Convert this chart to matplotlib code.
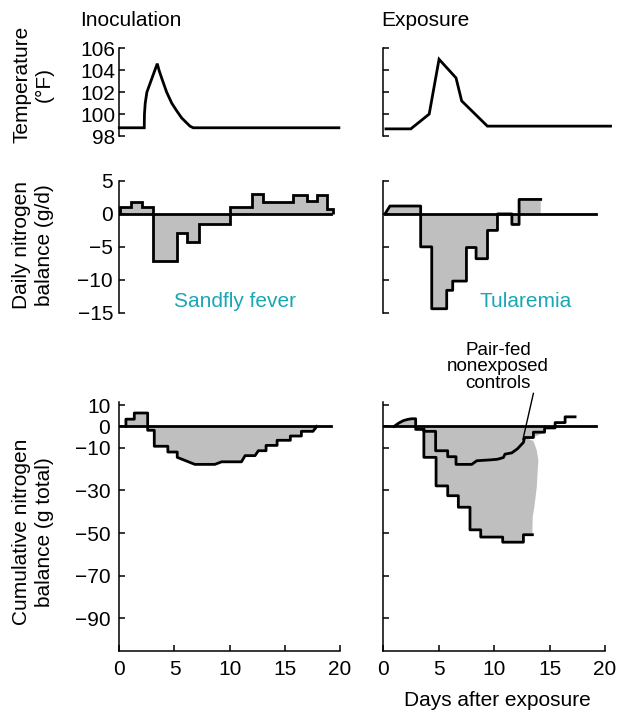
import matplotlib
matplotlib.use("Agg")
import matplotlib.pyplot as plt

plt.rcParams['font.family'] = ['Liberation Sans', 'DejaVu Sans']
FS = 15
FS_ANN = 13.5

# ---------------- data ----------------
# Temperature (deg F) vs day
TEMP_L_X = [0, 2.26, 2.28, 2.35, 2.5, 3.44, 3.6, 3.8, 4.29, 4.75, 5.2, 5.65, 6.1, 6.4, 6.7, 19.9]
TEMP_L_Y = [98.75, 98.75, 100.0, 101.0, 102.0, 104.6, 104.0, 103.4, 102.0, 101.0, 100.3, 99.65, 99.2, 98.9, 98.75, 98.75]
TEMP_R_X = [0.24, 2.48, 4.14, 5.03, 6.56, 7.07, 9.39, 20.5]
TEMP_R_Y = [98.65, 98.65, 100.0, 105.0, 103.3, 101.2, 98.9, 98.9]

# Daily nitrogen balance (g/d)
DAILY_L_EDGES = [0.06, 1.06, 2.1, 3.08, 5.25, 6.1, 7.2, 10.0, 12.0, 13.0, 15.7, 17.0, 17.9, 18.8, 19.4]
DAILY_L_VALS = [1.1, 1.8, 1.1, -7.2, -2.9, -4.3, -1.6, 1.0, 3.0, 1.8, 2.8, 1.9, 2.9, 0.8]
DAILY_R_START = 0.15
DAILY_R_EDGES = [0.6, 3.37, 4.37, 5.72, 6.26, 7.5, 8.37, 9.4, 10.3, 11.6, 12.25, 14.2]
DAILY_R_VALS = [1.2, -5.0, -14.4, -11.6, -10.2, -5.1, -6.8, -2.5, 0.0, -1.6, 2.2]

# Cumulative nitrogen balance (g total)
CUM_L_X = [0.6, 0.6, 1.36, 1.36, 2.57, 2.57, 3.17, 3.17, 4.4, 4.4, 5.25, 5.25, 6.85, 8.66, 9.27,
           11.07, 11.4, 12.3, 12.6, 13.3, 13.3, 14.3, 14.3, 15.5, 15.5, 16.5, 16.5, 17.55, 17.9]
CUM_L_Y = [0, 3.4, 3.4, 6.3, 6.3, -1.8, -1.8, -9.3, -9.3, -12.0, -12.0, -14.5, -17.8, -17.8, -16.6,
           -16.6, -13.7, -13.7, -11.4, -11.4, -8.9, -8.9, -6.5, -6.5, -4.5, -4.5, -2.3, -2.3, 0]

CUM_R_X = [0.97, 1.4, 1.8, 2.2, 2.56, 2.92, 2.92, 3.66, 3.66, 4.76, 4.76, 5.81, 5.81, 6.77, 6.77,
           7.82, 7.82, 8.79, 8.79, 10.77, 10.77, 12.64, 12.64, 13.45]
CUM_R_Y = [0, 1.6, 2.7, 3.3, 3.6, 3.6, -1.4, -1.4, -14.5, -14.5, -27.9, -27.9, -32.5, -32.5, -37.9,
           -37.9, -48.5, -48.5, -51.9, -51.9, -54.3, -54.3, -50.8, -50.8]

CTRL_X = [3.66, 3.66, 4.72, 4.72, 5.81, 5.81, 6.56, 6.56, 7.98, 8.43, 9.0, 9.63, 10.3, 10.83, 10.98,
          11.59, 12.1, 12.64, 12.75, 13.54, 13.54, 14.55, 14.55, 15.5, 15.5, 16.4, 16.4, 17.3]
CTRL_Y = [-1.4, -2.3, -2.3, -11.4, -11.4, -14.2, -14.2, -17.8, -17.8, -16.1, -15.9, -15.7, -15.4, -14.6, -13.0,
          -12.4, -10.5, -7.5, -5.2, -5.2, -2.7, -2.7, -0.7, -0.7, 1.8, 1.8, 4.5, 4.5]
# right-hand hand-drawn edge of the shaded difference area
WAVE_X = [13.54, 13.84, 13.99, 13.93, 13.85, 13.63, 13.48, 13.45]
WAVE_Y = [-6.8, -11.1, -15.8, -20.5, -28.3, -37.7, -42.4, -48.7]

TEMP_TICKS = [98, 100, 102, 104, 106]
DAILY_TICKS = [5, 0, -5, -10, -15]
CUM_TICKS = [10, 0, -10, -30, -50, -70, -90]
DAY_TICKS = [0, 5, 10, 15, 20]

ZERO_END = 19.2
GREY = '#bfbfbf'
TEAL = '#1aa6b4'
LW = 2.0


def step_xy(edges, vals):
    xs, ys = [], []
    for i, v in enumerate(vals):
        xs += [edges[i], edges[i + 1]]
        ys += [v, v]
    return xs, ys


fig = plt.figure(figsize=(6.17, 7.13), dpi=100)
W, H = 617.0, 713.0
LX = [119.3, 383.3]
WX = [220.7, 221.7]
rows = [(48.3, 136.0), (181.0, 312.7), (401.7, 650.7)]

axes = {}
for r, (top, bot) in enumerate(rows):
    for c in range(2):
        ax = fig.add_axes([LX[c] / W, 1 - bot / H, WX[c] / W, (bot - top) / H])
        ax.set_xlim(0, 20)
        for s in ['top', 'right']:
            ax.spines[s].set_visible(False)
        ax.spines['left'].set_linewidth(1.1)
        ax.spines['bottom'].set_linewidth(1.1)
        ax.tick_params(direction='in', length=4, width=1.1, labelsize=FS)
        if r < 2:
            ax.spines['bottom'].set_visible(False)
            ax.set_xticks([])
        axes[(r, c)] = ax

# --- temperature ---
for c, (tx, ty) in enumerate([(TEMP_L_X, TEMP_L_Y), (TEMP_R_X, TEMP_R_Y)]):
    ax = axes[(0, c)]
    ax.set_ylim(98, 106)
    ax.set_yticks(TEMP_TICKS)
    ax.plot(tx, ty, color='black', lw=LW, clip_on=False, solid_joinstyle='miter')
    ax.tick_params(axis='y', pad=3)
    if c == 1:
        ax.set_yticklabels([])

# --- daily nitrogen ---
ax = axes[(1, 0)]
ax.set_ylim(-15, 5)
ax.set_yticks(DAILY_TICKS)
ax.set_yticklabels(['5', '0', '\u22125', '\u221210', '\u221215'])
ax.tick_params(axis='y', pad=4.5)
ax.stairs(DAILY_L_VALS, DAILY_L_EDGES, baseline=0, fill=True, color=GREY, lw=0)
ax.plot([0, ZERO_END], [0, 0], color='black', lw=LW)
ax.stairs(DAILY_L_VALS, DAILY_L_EDGES, baseline=0, color='black', lw=LW)
ax.text(10.5, -14.2, 'Sandfly fever', color=TEAL, fontsize=FS, ha='center', va='baseline')

ax = axes[(1, 1)]
ax.set_ylim(-15, 5)
ax.set_yticks(DAILY_TICKS)
ax.set_yticklabels([])
xs, ys = step_xy(DAILY_R_EDGES, DAILY_R_VALS)
px = [DAILY_R_START] + xs + [DAILY_R_EDGES[-1]]
py = [0] + ys + [0]
ax.fill(px, py, color=GREY, lw=0)
ax.plot([DAILY_R_START, ZERO_END], [0, 0], color='black', lw=LW)
ax.plot(px[:-1], py[:-1], color='black', lw=LW)
ax.text(12.8, -14.2, 'Tularemia', color=TEAL, fontsize=FS, ha='center', va='baseline')

# --- cumulative ---
for c in range(2):
    ax = axes[(2, c)]
    ax.set_ylim(-105.2, 11.6)
    ax.set_yticks(CUM_TICKS)
    ax.set_xticks(DAY_TICKS)
    ax.tick_params(axis='y', pad=6.5)
    ax.tick_params(axis='x', pad=7)
    if c == 0:
        ax.set_yticklabels(['10', '0', '\u221210', '\u221230', '\u221250', '\u221270', '\u221290'])
    else:
        ax.set_yticklabels([])

ax = axes[(2, 0)]
ax.fill(CUM_L_X, CUM_L_Y, color=GREY, lw=0)
ax.plot([0, ZERO_END], [0, 0], color='black', lw=LW)
ax.plot(CUM_L_X, CUM_L_Y, color='black', lw=LW)

ax = axes[(2, 1)]
ax.fill_between(CUM_R_X[:6], CUM_R_Y[:6], 0, color=GREY, lw=0)
poly_x = [CUM_R_X[5], CTRL_X[22], CTRL_X[21], CTRL_X[19], CTRL_X[18]] + WAVE_X + CUM_R_X[::-1][:-5]
poly_y = [0, 0, CTRL_Y[21], CTRL_Y[19], CTRL_Y[18]] + WAVE_Y + CUM_R_Y[::-1][:-5]
ax.fill(poly_x, poly_y, color=GREY, lw=0)
ax.plot([0, ZERO_END], [0, 0], color='black', lw=LW)
ax.plot(CUM_R_X, CUM_R_Y, color='black', lw=LW)
ax.plot(CTRL_X, CTRL_Y, color='black', lw=LW)
ax.text(10.35, 27.9, 'Pair-fed\nnonexposed\ncontrols', fontsize=FS_ANN, ha='center', va='center',
        linespacing=0.95, clip_on=False)
ax.plot([13.54, 12.6], [15.5, -6.0], color='black', lw=1.0, clip_on=False)

# --- labels ---
fig.text(80 / W, 1 - 21 / H, 'Inoculation', fontsize=FS, ha='left', va='center')
fig.text(381 / W, 1 - 21 / H, 'Exposure', fontsize=FS, ha='left', va='center')
for yc, lab in [(84, 'Temperature\n(\u00b0F)'), (245, 'Daily nitrogen\nbalance (g/d)'),
                (532, 'Cumulative nitrogen\nbalance (g total)')]:
    fig.text(33 / W, 1 - yc / H, lab, fontsize=FS, rotation=90, ha='center', va='center',
             multialignment='center', linespacing=1.25)
fig.text(497 / W, 1 - 700 / H, 'Days after exposure', fontsize=FS, ha='center', va='center')

fig.savefig('out.png', dpi=100)
